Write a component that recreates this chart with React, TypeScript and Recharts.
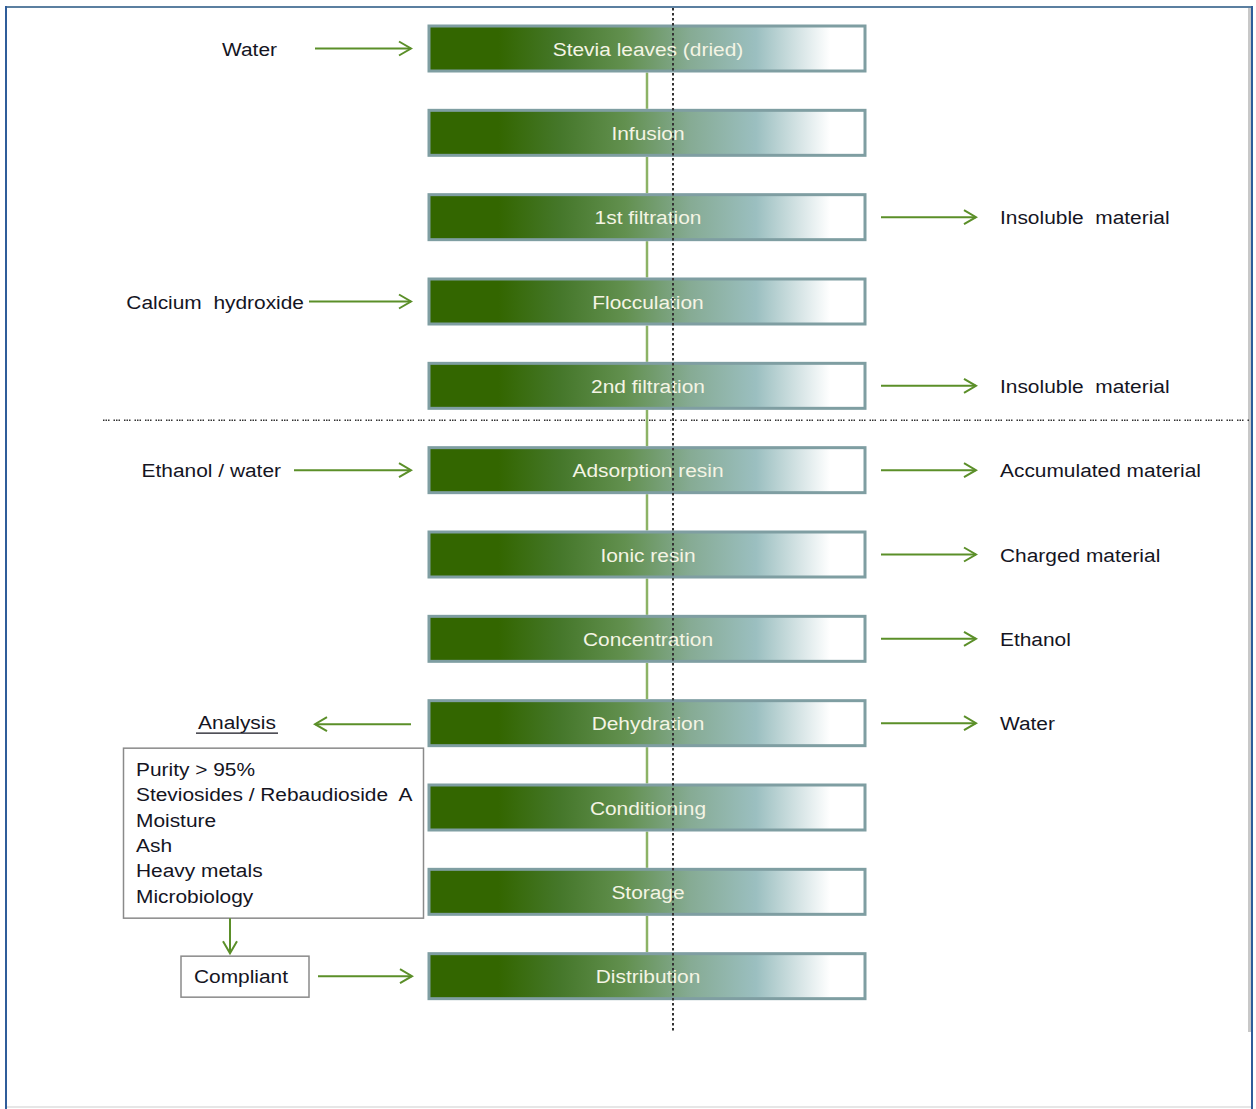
import React from 'react';
import { BarChart, Bar, XAxis, YAxis } from 'recharts';

const steps = [
  'Stevia leaves (dried)', 'Infusion', '1st filtration', 'Flocculation', '2nd filtration',
  'Adsorption resin', 'Ionic resin', 'Concentration', 'Dehydration', 'Conditioning', 'Storage', 'Distribution',
];
const inputs = ['Water', '', '', 'Calcium  hydroxide', '', 'Ethanol / water', '', '', '', '', '', ''];
const outputs = ['', '', 'Insoluble  material', '', 'Insoluble  material', 'Accumulated material', 'Charged material', 'Ethanol', 'Water', '', '', ''];
const stepSpan = [429, 865];
const analysisTitle = 'Analysis';
const analysisItems = ['Purity > 95%', 'Steviosides / Rebaudioside  A', 'Moisture', 'Ash', 'Heavy metals', 'Microbiology'];
const compliantLabel = 'Compliant';

const data = steps.map((s, i) => ({ step: s, span: stepSpan, input: inputs[i], output: outputs[i] }));

const W = 1256;
const H = 1109;
const M = { top: 6, right: 0, bottom: 91, left: 0 };
const BAND = (H - M.top - M.bottom) / steps.length;
const FONT = '"Liberation Sans", Arial, sans-serif';
const GREEN = '#5b8f29';
const TXT = '#15151f';

const inputLayout: Record<string, { textEnd: number; arrowStart: number }> = {
  'Water': { textEnd: 277, arrowStart: 315 },
  'Calcium  hydroxide': { textEnd: 304, arrowStart: 309 },
  'Ethanol / water': { textEnd: 281, arrowStart: 294 },
};

const T = ({ x, y, anchor = 'start', fill = TXT, children }: any) => (
  <text transform={`translate(${x},${y}) scale(1.1,1)`} x={0} y={0} textAnchor={anchor}
    fontFamily={FONT} fontSize={19} fill={fill} style={{ whiteSpace: 'pre' }}>{children}</text>
);

const Arrow = ({ x1, x2, y1, y2 }: { x1: number; x2: number; y1: number; y2: number }) => {
  const dx = x2 - x1, dy = y2 - y1;
  const len = Math.sqrt(dx * dx + dy * dy) || 1;
  const ux = dx / len, uy = dy / len;
  const hl = 12, hw = 7;
  const bx = x2 - ux * hl, by = y2 - uy * hl;
  const px = -uy * hw, py = ux * hw;
  return (
    <g stroke={GREEN} strokeWidth={2} fill="none">
      <line x1={x1} y1={y1} x2={x2} y2={y2} />
      <polyline points={`${bx + px},${by + py} ${x2},${y2} ${bx - px},${by - py}`} strokeLinejoin="miter" />
    </g>
  );
};

const RowShape = (props: any) => {
  const { x, y, width, height, index, payload } = props;
  const cy = y + height / 2;
  const cx = x + width / 2;
  const right = x + width;
  const isLast = index === steps.length - 1;
  const inL = payload.input ? inputLayout[payload.input] : null;
  return (
    <g>
      {!isLast && (
        <line x1={cx} x2={cx} y1={y + height + 1.5} y2={y + BAND - 1.5} stroke="#8cb366" strokeWidth={2.5} />
      )}
      <rect x={x} y={y} width={width} height={height} fill="url(#boxGrad)" stroke="#7f9ea2" strokeWidth={3} />
      <T x={cx + 1} y={cy + 7} anchor="middle" fill="#f4f4e4">{payload.step}</T>
      {inL && (
        <g>
          <T x={inL.textEnd} y={cy + 7} anchor="end">{payload.input}</T>
          <Arrow x1={inL.arrowStart} x2={x - 18} y1={cy} y2={cy} />
        </g>
      )}
      {payload.output && (
        <g>
          <Arrow x1={right + 16} x2={right + 111} y1={cy} y2={cy} />
          <T x={right + 135} y={cy + 7}>{payload.output}</T>
        </g>
      )}
      {index === 4 && (
        <line x1={103} x2={1250} y1={y + height + 12} y2={y + height + 12} stroke="#333" strokeWidth={1.5}
          strokeDasharray="1.5 1 1.5 1 1.5 4" />
      )}
      {payload.step === 'Dehydration' && (
        <g>
          <Arrow x1={x - 18} x2={315} y1={cy + 1} y2={cy + 1} />
          <T x={237} y={cy + 6} anchor="middle">{analysisTitle}</T>
          <line x1={196} x2={278} y1={cy + 10} y2={cy + 10} stroke={TXT} strokeWidth={1.3} />
          <rect x={123.5} y={cy + 25} width={300} height={170} fill="#fff" stroke="#8a8a8a" strokeWidth={1.5} />
          {analysisItems.map((t, i) => (
            <T key={t} x={136} y={cy + 53 + i * 25.3}>{t}</T>
          ))}
          <Arrow x1={230} x2={230} y1={cy + 195} y2={cy + 230} />
        </g>
      )}
      {payload.step === 'Distribution' && (
        <g>
          <rect x={181} y={cy - 20} width={128} height={41} fill="#fff" stroke="#8a8a8a" strokeWidth={1.5} />
          <T x={241} y={cy + 7} anchor="middle">{compliantLabel}</T>
          <Arrow x1={318} x2={x - 17} y1={cy} y2={cy} />
        </g>
      )}
      {isLast && (
        <line x1={673} x2={673} y1={8} y2={cy + 56} stroke="#333" strokeWidth={2} strokeDasharray="2.5 2.5" />
      )}
    </g>
  );
};

export default function App() {
  return (
    <div style={{ position: 'absolute', left: 0, top: 0, width: W, height: H, background: '#fff', overflow: 'hidden' }}>
      <div style={{ position: 'absolute', left: 5, top: 6, width: 1248, height: 2, background: '#5b7fa0' }} />
      <div style={{ position: 'absolute', left: 5, top: 6, width: 2, height: 1103, background: '#2f5d9a' }} />
      <div style={{ position: 'absolute', left: 1251, top: 6, width: 2, height: 1103, background: '#2f5d9a' }} />
      <div style={{ position: 'absolute', left: 1248, top: 8, width: 3, height: 1024, background: '#c8c8c8' }} />
      <div style={{ position: 'absolute', left: 7, top: 1106, width: 1244, height: 2, background: '#e6e6e6' }} />
      <div style={{ position: 'absolute', left: 0, top: 0 }}>
        <BarChart width={W} height={H} data={data} layout="vertical" margin={M} barSize={45}>
          <defs>
            <linearGradient id="boxGrad" x1="0" y1="0" x2="1" y2="0">
              <stop offset="0%" stopColor="#336600" />
              <stop offset="16%" stopColor="#336600" />
              <stop offset="30%" stopColor="#45772a" />
              <stop offset="45%" stopColor="#62904f" />
              <stop offset="60%" stopColor="#86ab94" />
              <stop offset="75%" stopColor="#9bbfc0" />
              <stop offset="86%" stopColor="#dce8e9" />
              <stop offset="92%" stopColor="#ffffff" />
              <stop offset="100%" stopColor="#ffffff" />
            </linearGradient>
          </defs>
          <XAxis type="number" domain={[0, W]} hide />
          <YAxis type="category" dataKey="step" hide />
          <Bar dataKey="span" isAnimationActive={false} shape={RowShape} />
        </BarChart>
      </div>
    </div>
  );
}
